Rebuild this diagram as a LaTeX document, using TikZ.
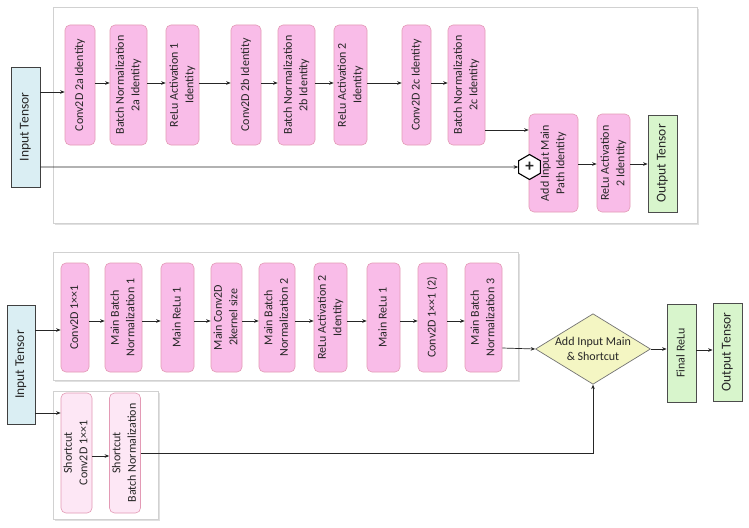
\documentclass[tikz,border=0pt]{standalone}
\usepackage{fontspec}
\setmainfont{Carlito}
\usetikzlibrary{shapes.geometric,arrows.meta}
\definecolor{pinkf}{HTML}{F9BCE8}
\definecolor{pinkd}{HTML}{E39AB5}
\definecolor{lpinkf}{HTML}{FDE7F5}
\definecolor{bluef}{HTML}{DAEEF3}
\definecolor{greenf}{HTML}{D8F5CC}
\definecolor{yelf}{HTML}{F4F6C3}
\definecolor{txt}{HTML}{262626}
\newcommand\rt[1]{\rotatebox{90}{\begin{tabular}{@{}c@{}}#1\end{tabular}}}
\begin{document}
\begin{tikzpicture}[x=1pt,y=-1pt,
  font=\fontsize{12}{15.5}\selectfont, text=txt,
  pbox/.style={draw=pinkd, fill=pinkf, rounded corners=5pt, inner sep=0pt, line width=0.6pt},
  lbox/.style={draw=pinkd, fill=lpinkf, rounded corners=5pt, inner sep=0pt, line width=0.6pt},
  tbox/.style={draw=black!75, fill=bluef, inner sep=0pt, line width=0.8pt, font=\fontsize{13.5}{16}\selectfont},
  gbox/.style={draw=black!70, fill=greenf, inner sep=0pt, line width=0.8pt},
  arr/.style={draw=black!85, line width=0.7pt, -{Stealth[length=4.5pt,width=3.6pt]}},
  frm/.style={fill=white, draw=black!18, line width=0.6pt},
  shd/.style={fill=black!12}]
\useasboundingbox (0,0) rectangle (749,527);
% frames
\fill[shd] (55,9) rectangle (699,225);
\filldraw[frm] (53,7) rectangle (697,223);
\fill[shd] (55,254) rectangle (520,382);
\filldraw[frm] (53,252) rectangle (518,380);
\fill[shd] (55,393) rectangle (160,521);
\filldraw[frm] (53,391) rectangle (158,519);
% ---------- top ----------
\node[tbox, minimum width=29, minimum height=120] (in) at (25.5,127) {\rt{Input Tensor}};
\node[pbox, minimum width=30, minimum height=120] (t1) at (80,85) {\rt{Conv2D 2a Identity}};
\node[pbox, minimum width=37, minimum height=120] (t2) at (128.5,85) {\rt{Batch Normalization\\2a Identity}};
\node[pbox, minimum width=33, minimum height=120] (t3) at (182.5,85) {\rt{ReLu Activation 1\\Identity}};
\node[pbox, minimum width=30, minimum height=120] (t4) at (246,85) {\rt{Conv2D 2b Identity}};
\node[pbox, minimum width=37, minimum height=120] (t5) at (296.5,85) {\rt{Batch Normalization\\2b Identity}};
\node[pbox, minimum width=33, minimum height=120] (t6) at (350.5,85) {\rt{ReLu Activation 2\\Identity}};
\node[pbox, minimum width=29, minimum height=120] (t7) at (416.5,85) {\rt{Conv2D 2c Identity}};
\node[pbox, minimum width=37, minimum height=120] (t8) at (466.5,85) {\rt{Batch Normalization\\2c Identity}};
\node[pbox, minimum width=49, minimum height=98] (add) at (553.5,163) {\rt{Add Input Main\\Path Identity}};
\node[pbox, minimum width=33, minimum height=98] (r2) at (613.5,163) {\rt{ReLu Activation\\2 Identity}};
\node[gbox, minimum width=29, minimum height=97, font=\fontsize{13.5}{16}\selectfont] (out) at (662.5,163.5) {\rt{Output Tensor}};
\node[regular polygon, regular polygon sides=6, shape border rotate=30, draw=black, line width=1.1pt, fill=white, minimum size=25pt, inner sep=0pt, font=\fontsize{17}{17}\selectfont\bfseries] (hex) at (529.5,167) {+};
\draw[arr] (in.east |- 0,92) -- (t1.west |- 0,92);
\foreach \a/\b in {t1/t2,t2/t3,t3/t4,t4/t5,t5/t6,t6/t7,t7/t8}
  \draw[arr] (\a.east |- 0,83) -- (\b.west |- 0,83);
\draw[arr] (t8.east |- 0,130) -- (add.west |- 0,130);
\draw[arr] (in.east |- 0,167) -- (hex.west);
\draw[arr] (add.east |- 0,164) -- (r2.west |- 0,164);
\draw[arr] (r2.east |- 0,164) -- (out.west |- 0,164);
% ---------- bottom ----------
\node[tbox, minimum width=28, minimum height=119] (bin) at (21,364.5) {\rt{Input Tensor}};
\node[pbox, minimum width=28, minimum height=109] (b1) at (75,317.5) {\rt{Conv2D 1××1}};
\node[pbox, minimum width=37, minimum height=109] (b2) at (123.5,317.5) {\rt{Main Batch\\Normalization 1}};
\node[pbox, minimum width=33, minimum height=109] (b3) at (177.5,317.5) {\rt{Main ReLu 1}};
\node[pbox, minimum width=29, minimum height=109] (b4) at (226.5,317.5) {\rt{Main Conv2D\\2kernel size}};
\node[pbox, minimum width=36, minimum height=109] (b5) at (277,317.5) {\rt{Main Batch\\Normalization 2}};
\node[pbox, minimum width=33, minimum height=109] (b6) at (330.5,317.5) {\rt{ReLu Activation 2\\Identity}};
\node[pbox, minimum width=33, minimum height=109] (b7) at (383.5,317.5) {\rt{Main ReLu 1}};
\node[pbox, minimum width=29, minimum height=109] (b8) at (432.5,317.5) {\rt{Conv2D 1××1 (2)}};
\node[pbox, minimum width=37, minimum height=109] (b9) at (483.5,317.5) {\rt{Main Batch\\Normalization 3}};
\node[diamond, draw=black!55, fill=yelf, line width=0.7pt, inner sep=0pt, aspect=1.63, minimum width=114pt, minimum height=70pt, align=center] (dia) at (593,349) {Add Input Main\\\& Shortcut};
\node[gbox, minimum width=29, minimum height=98] (fr) at (681.5,353) {\rt{Final ReLu}};
\node[gbox, minimum width=29, minimum height=98, font=\fontsize{13.5}{16}\selectfont] (bout) at (727.5,352) {\rt{Output Tensor}};
\node[lbox, minimum width=29, minimum height=120] (s1) at (76.5,453) {\rt{Shortcut\\Conv2D 1××1}};
\node[lbox, minimum width=28, minimum height=120] (s2) at (125,453) {\rt{Shortcut\\Batch Normalization}};
\draw[arr] (bin.east |- 0,330) -- (b1.west |- 0,330);
\foreach \a/\b in {b1/b2,b2/b3,b3/b4,b4/b5,b5/b6,b6/b7,b7/b8,b8/b9}
  \draw[arr] (\a.east |- 0,321) -- (\b.west |- 0,321);
\draw[arr] (b9.east |- 0,348) -- (dia.west);
\draw[arr] (dia.east) -- (fr.west |- dia.east);
\draw[arr] (fr.east |- 0,350) -- (bout.west |- 0,350);
\draw[arr] (bin.east |- 0,413) -- (s1.west |- 0,413);
\draw[arr] (s1.east |- 0,456) -- (s2.west |- 0,456);
\draw[arr] (s2.east |- 0,453) -| (dia.south);
\end{tikzpicture}
\end{document}
